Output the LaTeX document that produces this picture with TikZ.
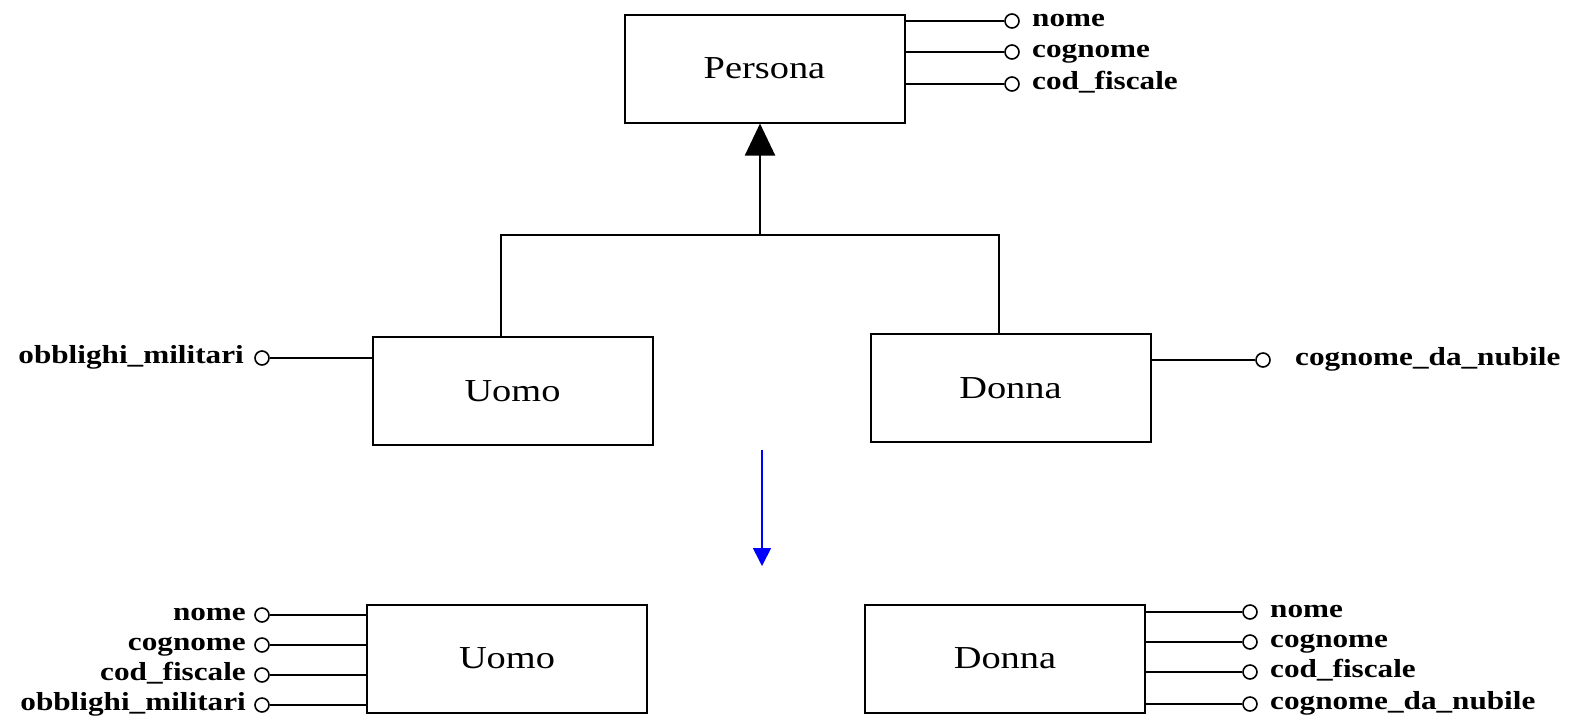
\documentclass[tikz,border=0pt]{standalone}
\usepackage{fontspec}
\setmainfont{Liberation Serif}[FakeStretch=1.2]
\usetikzlibrary{arrows.meta,positioning}
\tikzset{
	entity/.style={draw, line width=1pt, minimum width=140pt, minimum height=54pt, font=\fontsize{16}{18}\selectfont},
	attr/.style={circle, draw, line width=0.8pt, inner sep=0pt, minimum size=7pt},
	attrname/.style={inner sep=0pt, text height=0.7em, text depth=0.2em, font=\bfseries\fontsize{13}{15}\selectfont},
	link/.style={line width=1pt}
}
\begin{document}
\begin{tikzpicture}[x=0.5pt,y=-0.5pt]
		\useasboundingbox (0,0) rectangle (1574,725);
		% gerarchia
		\node[entity] (P) at (764.5,68.5){Persona};
		\node[entity] (U) at (512.5,391){Uomo};
		\node[entity] (D) at (1010.5,388){Donna};
		\coordinate (j) at (760,235);
		\draw[link] ([xshift=-6pt]U.north) |- (j) -| ([xshift=-6pt]D.north);
		\draw[link, -{Triangle[length=16pt,width=15pt]}] (j) -- (j |- P.south);
		% attributi di Persona
		\foreach \name/\y [count=\i] in {nome/21, cognome/52, cod\_fiscale/84}{
			\node[attr] (pa\i) at (1012,\y){};
			\node[attrname, right=6pt of pa\i] (lpa\i){\name};
			\draw[link] (P.east |- pa\i) -- (pa\i);
		}
		\node[attr] (ua) at (262,358){};
		\node[attrname, left=5pt of ua] (lua){obblighi\_militari};
		\draw[link] (U.west |- ua) -- (ua);
		\node[attr] (da) at (1263,360){};
		\node[attrname, right=12pt of da] (lda){cognome\_da\_nubile};
		\draw[link] (D.east |- da) -- (da);
		% trasformazione
		\coordinate (from) at (762,450);
		\coordinate (to) at (762,566);
		\draw[blue, line width=0.8pt, -{Triangle[length=9pt,width=9pt]}] (from) -- (to);
		% risultato
		\node[entity] (BU) at (507,658.5){Uomo};
		\node[entity] (BD) at (1005,658.5){Donna};
		\foreach \name/\y [count=\i] in {nome/615, cognome/645, cod\_fiscale/675, obblighi\_militari/705}{
			\node[attr] (bu\i) at (262,\y){};
			\node[attrname, left=4pt of bu\i] (lbu\i){\name};
			\draw[link] (bu\i) -- (BU.west |- bu\i);
		}
		\foreach \name/\y [count=\i] in {nome/612, cognome/642, cod\_fiscale/672, cognome\_da\_nubile/704}{
			\node[attr] (bd\i) at (1250,\y){};
			\node[attrname, right=6pt of bd\i] (lbd\i){\name};
			\draw[link] (BD.east |- bd\i) -- (bd\i);
		}
	\end{tikzpicture}
\end{document}
